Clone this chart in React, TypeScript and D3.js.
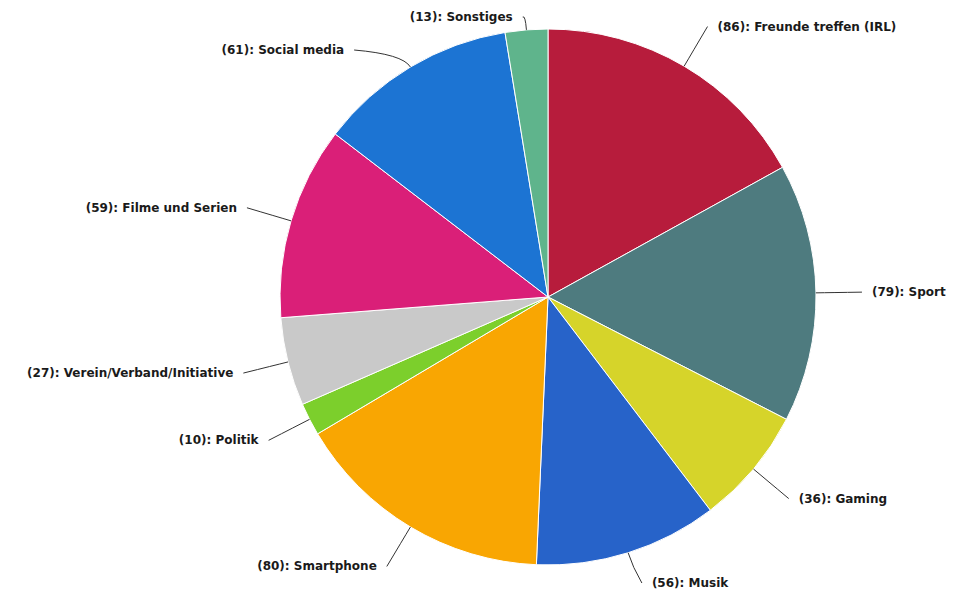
import React from "react";
import * as d3 from "d3";

const categories = [
  "Freunde treffen (IRL)",
  "Sport",
  "Gaming",
  "Musik",
  "Smartphone",
  "Politik",
  "Verein/Verband/Initiative",
  "Filme und Serien",
  "Social media",
  "Sonstiges",
];
const values = [86, 79, 36, 56, 80, 10, 27, 59, 61, 13];
const colors = [
  "#b71c3c",
  "#4e7b7f",
  "#d6d42a",
  "#2763c9",
  "#f9a602",
  "#7ccf2c",
  "#c9c9c9",
  "#da1f78",
  "#1c74d3",
  "#5fb48c",
];

const W = 953;
const H = 592;
const cx = 548;
const cy = 297;
const r = 268;
const labelDist = 46;
const minY = 17;
const maxY = 583;
const minGap = 33;

type Lab = {
  i: number;
  mid: number;
  side: number;
  x: number;
  y: number;
  natY: number;
  ex: number;
  ey: number;
  qx: number;
  qy: number;
};

export default function App() {
  const data = categories.map((c, i) => ({ c, v: values[i], i }));
  const pie = d3
    .pie<any>()
    .sort(null)
    .value((d: any) => d.v)
    .startAngle(0)
    .endAngle(2 * Math.PI);
  const arcs = pie(data);
  const arcGen = d3.arc<any>().innerRadius(0).outerRadius(r);
  const R = r + labelDist;

  const labs: Lab[] = arcs.map((a, i) => {
    const mid = (a.startAngle + a.endAngle) / 2;
    const s = Math.sin(mid);
    const c = Math.cos(mid);
    const natY = cy - R * c;
    const y = Math.max(minY, Math.min(maxY, natY));
    return {
      i,
      mid,
      side: s >= 0 ? 1 : -1,
      x: cx + R * s,
      y,
      natY,
      ex: cx + r * s,
      ey: cy - r * c,
      qx: cx + (r + 15) * s,
      qy: cy - (r + 15) * c,
    };
  });

  [1, -1].forEach((side) => {
    const group = labs.filter((l) => l.side === side).sort((a, b) => a.y - b.y);
    for (let k = 1; k < group.length; k++) {
      if (group[k].y - group[k - 1].y < minGap) {
        group[k].y = group[k - 1].y + minGap;
        const dy = group[k].y - cy;
        group[k].x = cx + side * Math.sqrt(Math.max(0, R * R - dy * dy));
      }
    }
  });

  return (
    <svg
      width={W}
      height={H}
      style={{ position: "absolute", left: 0, top: 0, background: "#fff" }}
    >
      <g transform={`translate(${cx},${cy})`}>
        {arcs.map((a, i) => (
          <path
            key={i}
            d={arcGen(a) as string}
            fill={colors[i]}
            stroke="#ffffff"
            strokeWidth={1}
          />
        ))}
      </g>
      {labs.map((l) => (
        <g key={l.i}>
          <path
            d={`M${l.x},${l.y} Q${l.qx},${l.qy} ${l.ex},${l.ey}`}
            fill="none"
            stroke="#333"
            strokeWidth={1}
          />
          <text
            x={l.x + l.side * 10}
            y={l.y}
            textAnchor={l.side > 0 ? "start" : "end"}
            dominantBaseline="central"
            style={{
              fontFamily: "'DejaVu Sans', sans-serif",
              fontWeight: 700,
              fontSize: "12px",
              fill: "#1a1a1a",
            }}
          >
            {`(${values[l.i]}): ${categories[l.i]}`}
          </text>
        </g>
      ))}
    </svg>
  );
}
